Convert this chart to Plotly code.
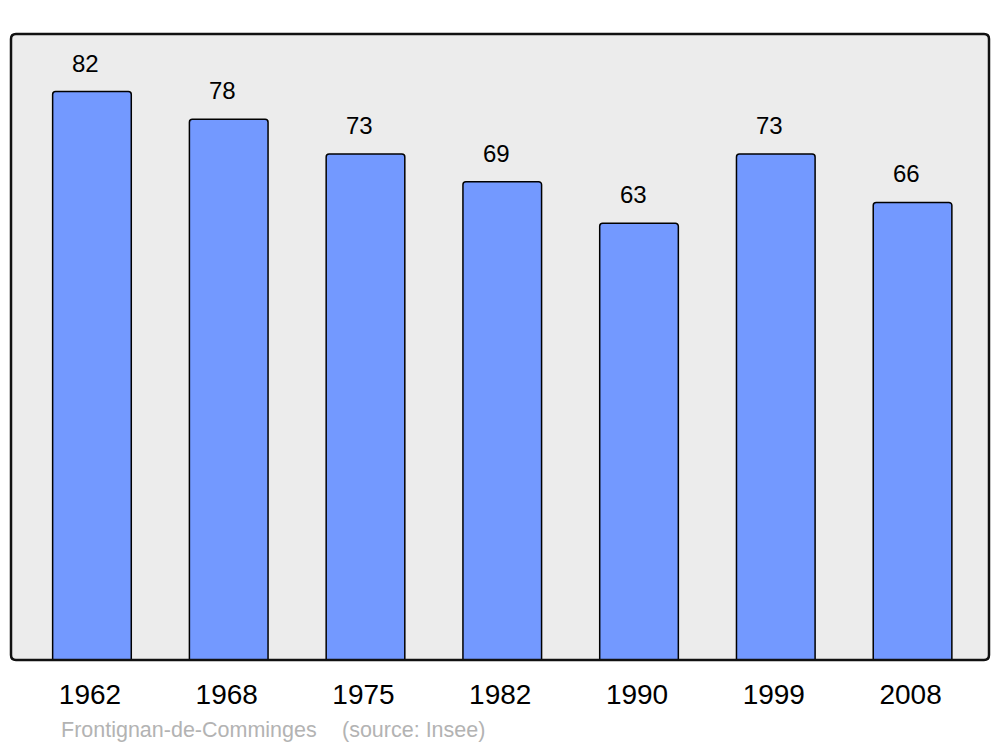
import plotly.graph_objects as go

years = ["1962", "1968", "1975", "1982", "1990", "1999", "2008"]
population = [82, 78, 73, 69, 63, 73, 66]
commune = "Frontignan-de-Comminges"
source = "(source: Insee)"

FONT = "Liberation Sans, Arial, sans-serif"
W, H = 992, 739  # page body has an 8px default margin

fig = go.Figure()
fig.add_trace(go.Bar(
    x=list(range(len(years))), y=population, width=0.575,
    marker=dict(color="#7399FF", line=dict(color="#000000", width=1.5), cornerradius=3),
    hoverinfo="skip",
))

for i, v in enumerate(population):
    fig.add_annotation(x=i, y=v, text=str(v), showarrow=False, yanchor="bottom",
                       xshift=-6, yshift=13, font=dict(size=24, color="#000000", family=FONT))

pw = 978
fig.add_annotation(xref="paper", yref="paper", x=(59 - 11) / pw, y=-(716 - 660) / 626,
                   xanchor="left", yanchor="top", text=commune, showarrow=False,
                   font=dict(size=21.5, color="#B3B3B3", family=FONT))
fig.add_annotation(xref="paper", yref="paper", x=(340 - 11) / pw, y=-(716 - 660) / 626,
                   xanchor="left", yanchor="top", text=source, showarrow=False,
                   font=dict(size=21.5, color="#B3B3B3", family=FONT))

rx, ry = 5 / 978, 5 / 626
path = (f"M {rx},0 L {1-rx},0 Q 1,0 1,{ry} L 1,{1-ry} Q 1,1 {1-rx},1 "
        f"L {rx},1 Q 0,1 0,{1-ry} L 0,{ry} Q 0,0 {rx},0 Z")
fig.add_shape(type="path", path=path, xref="paper", yref="paper",
              line=dict(color="#111111", width=2.5), layer="above")

fig.update_layout(
    width=W, height=H,
    margin=dict(l=3, r=W - 3 - 978, t=26, b=H - 26 - 626),
    paper_bgcolor="#FFFFFF", plot_bgcolor="#ECECEC",
    showlegend=False,
    font=dict(family=FONT, color="#000000"),
    xaxis=dict(range=[-0.592, 6.559], showgrid=False, zeroline=False,
               showline=False, ticks="", tickmode="array",
               tickvals=list(range(len(years))), ticktext=years,
               tickfont=dict(size=28), ticklabelstandoff=15, ticklabelshift=-2),
    yaxis=dict(range=[0, 90.3], showgrid=False, zeroline=False, showline=False,
               showticklabels=False, ticks=""),
)

fig.write_html("out.html")
